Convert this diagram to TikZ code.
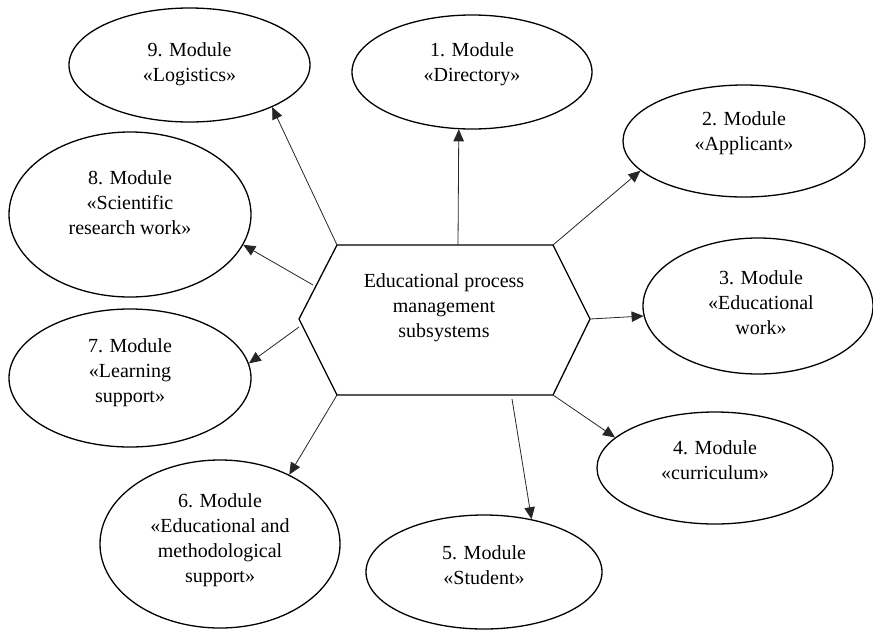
\documentclass[tikz,border=0pt]{standalone}
\usepackage{fontspec}
\setmainfont{Liberation Serif}
\usetikzlibrary{shapes.geometric,arrows.meta}
\begin{document}
\begin{tikzpicture}[x=1pt,y=-1pt,
  mod/.style={ellipse, draw, line width=1.3pt, inner sep=0pt},
  txt/.style={align=center, font=\fontsize{20}{25}\selectfont, inner sep=0pt},
  conn/.style={line width=0.8pt, draw=black!85, -{Triangle[length=12pt,width=10.5pt]}},
  hexline/.style={line width=1.3pt, line join=miter},
]
\useasboundingbox (0,0) rectangle (873,630);

% central hexagon
\coordinate (hL) at (299,319);
\coordinate (hTL) at (337,245);
\coordinate (hTR) at (553,245);
\coordinate (hR) at (590,319);
\coordinate (hBR) at (553,395);
\coordinate (hBL) at (337,395);
\draw[hexline] (hL) -- (hTL) -- (hTR) -- (hR) -- (hBR) -- (hBL) -- cycle;
\node[txt] (hub) at (444,308) {Educational process\\management\\subsystems};

% modules
\node[mod, minimum width=240, minimum height=114,
  label={[txt,yshift=8pt]center:{1. Module\\«Directory»}}] (e1) at (472,72) {};
\node[mod, minimum width=242, minimum height=112,
  label={[txt,yshift=8pt]center:{2. Module\\«Applicant»}}] (e2) at (744,141) {};
\node[mod, minimum width=230, minimum height=136,
  label={[txt,yshift=3pt,xshift=3pt]center:{3. Module\\«Educational\\work»}}] (e3) at (758,306) {};
\node[mod, minimum width=236, minimum height=112,
  label={[txt,yshift=8pt]center:{4. Module\\«curriculum»}}] (e4) at (715,468) {};
\node[mod, minimum width=236, minimum height=114,
  label={[txt,yshift=7pt]center:{5. Module\\«Student»}}] (e5) at (484,572) {};
\node[mod, minimum width=240, minimum height=168,
  label={[txt,yshift=4pt]center:{6. Module\\«Educational and\\methodological\\support»}}] (e6) at (220,544) {};
\node[mod, minimum width=242, minimum height=138,
  label={[txt,yshift=5pt]center:{7. Module\\«Learning\\support»}}] (e7) at (130,378) {};
\node[mod, minimum width=242, minimum height=165,
  label={[txt,yshift=12pt]center:{8. Module\\«Scientific\\research work»}}] (e8) at (130,214.5) {};
\node[mod, minimum width=241, minimum height=114,
  label={[txt,yshift=1pt]center:{9. Module\\«Logistics»}}] (e9) at (189.5,65) {};

% connector start points
\coordinate (s1) at (458,245);
\coordinate (s8) at (313,285);
\coordinate (s7) at (299,327);
\coordinate (s5) at (512,399);

% connectors
\draw[conn] (hTL) -- (e9.-27);
\draw[conn] (s1) -- (e1.-103);
\draw[conn] (hTR) -- (e2.196);
\draw[conn] (s8) -- (e8.-15);
\draw[conn] (hR) -- (e3.185.5);
\draw[conn] (s7) -- (e7.7);
\draw[conn] (hBL) -- (e6.45);
\draw[conn] (hBR) -- (e4.163);
\draw[conn] (s5) -- (e5.48);
\end{tikzpicture}
\end{document}
